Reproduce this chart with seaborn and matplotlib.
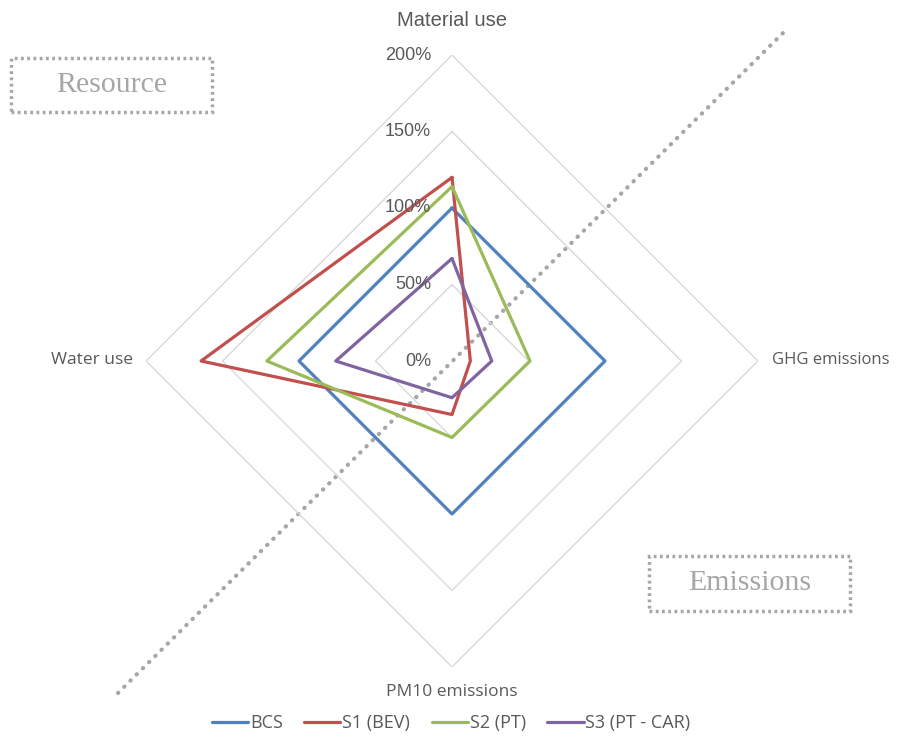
import numpy as np
import pandas as pd
import matplotlib
matplotlib.use("Agg")
import matplotlib.pyplot as plt
import seaborn as sns
from matplotlib.lines import Line2D
from matplotlib.patches import Rectangle

categories = ["Material use", "GHG emissions", "PM10 emissions", "Water use"]
scenarios = ["BCS", "S1 (BEV)", "S2 (PT)", "S3 (PT - CAR)"]
bcs = [100, 100, 100, 100]
s1_bev = [120, 12, 35, 164]
s2_pt = [114, 51, 50, 121]
s3_pt_car = [67, 26, 24, 76]
grid_levels = [0, 50, 100, 150, 200]
grid_labels = ["0%", "50%", "100%", "150%", "200%"]
colors = ["#4F81BD", "#C0504D", "#9BBB59", "#8064A2"]

sns.set_theme(style="white")
plt.rcParams["font.family"] = ["Open Sans", "DejaVu Sans"]

W, H = 897, 736
fig = plt.figure(figsize=(W / 100, H / 100), dpi=100)
cx, cy, R = 452, 361, 306
ax = fig.add_axes([(cx - R) / W, (H - cy - R) / H, 2 * R / W, 2 * R / H],
                  projection="polar")
ax.set_theta_offset(np.pi / 2)
ax.set_theta_direction(-1)

n = len(categories)
angles = [2 * np.pi * i / n for i in range(n)]

rows = []
for name, vals in zip(scenarios, [bcs, s1_bev, s2_pt, s3_pt_car]):
    for k in range(n + 1):
        rows.append({"scenario": name, "theta": angles[k % n] if k < n else 2 * np.pi,
                     "value": vals[k % n], "order": k})
df = pd.DataFrame(rows)

# diamond grid
for lv in grid_levels[1:]:
    ax.plot(angles + [angles[0]], [lv] * (n + 1), color="#d9d9d9", lw=1.0, zorder=1)

sns.lineplot(data=df, x="theta", y="value", hue="scenario", units="scenario",
             estimator=None, sort=False, palette=colors, linewidth=2.3,
             ax=ax, legend=False, zorder=3)

ax.set_ylim(0, 200)
ax.grid(False)
ax.spines["polar"].set_visible(False)
ax.set_xticks([])
ax.set_yticks([])
ax.set_xlabel("")
ax.set_ylabel("")
ax.patch.set_alpha(0)

txt = "#595959"
# radial labels
for lv, lab in zip(grid_levels, grid_labels):
    ax.annotate(lab, xy=(0, lv), xytext=(-15, 0), textcoords="offset points",
                ha="right", va="center", fontsize=13, color=txt,
                family=["Liberation Sans", "DejaVu Sans"])

# category labels
fig.text(cx / W, 1 - 20 / H, categories[0], ha="center", va="center", fontsize=14.5,
         color=txt, family=["Liberation Sans", "DejaVu Sans"])
fig.text(772 / W, 1 - 360 / H, categories[1], ha="left", va="center", fontsize=12, color=txt)
fig.text(cx / W, 1 - 692 / H, categories[2], ha="center", va="center", fontsize=12.5, color=txt)
fig.text(133 / W, 1 - 360 / H, categories[3], ha="right", va="center", fontsize=12.5, color=txt)

# diagonal dotted line
fig.add_artist(Line2D([118 / W, 785 / W], [1 - 693 / H, 1 - 31 / H], transform=fig.transFigure,
                      color="#a6a6a6", lw=3, linestyle=(0, (0.1, 2.0)),
                      dash_capstyle="round", solid_capstyle="round", zorder=0))

# text boxes
def box(x0, y0, x1, y1, label):
    fig.add_artist(Rectangle((x0 / W, 1 - y1 / H), (x1 - x0) / W, (y1 - y0) / H,
                             transform=fig.transFigure, fill=False, edgecolor="#a6a6a6",
                             lw=2.5, linestyle=(0, (0.8, 1.0))))
    fig.text((x0 + x1) / 2 / W, 1 - (y0 + y1) / 2 / H, label, ha="center", va="center",
             fontsize=21.5, color="#a6a6a6", family=["Liberation Serif", "DejaVu Serif"])

box(11, 58, 212, 112, "Resource")
box(649, 556, 850, 611, "Emissions")

handles = [Line2D([0], [0], color=c, lw=2.3) for c in colors]
fig.legend(handles, scenarios, loc="center", bbox_to_anchor=(0.503, 1 - 723 / H), ncol=4,
           frameon=False, fontsize=13, handlelength=2.0, handletextpad=0.1,
           columnspacing=1.2, labelcolor=txt)

fig.savefig("out.png", dpi=100)
